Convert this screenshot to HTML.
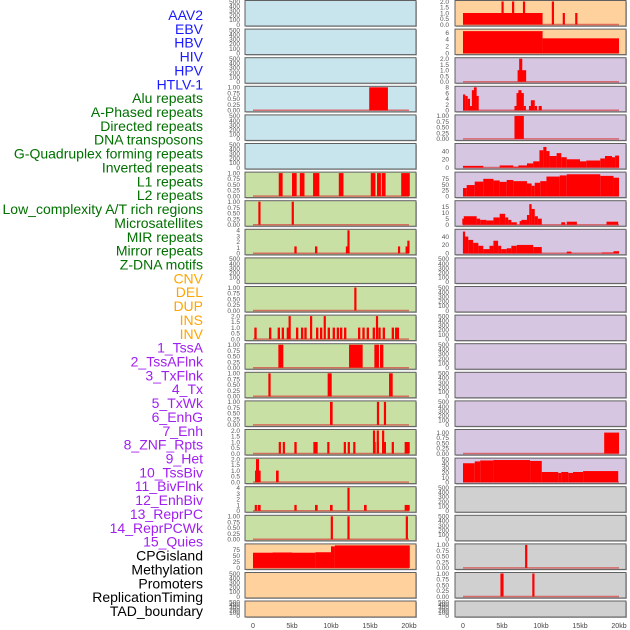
<!DOCTYPE html>
<html><head><meta charset="utf-8"><style>
html,body{margin:0;padding:0;background:#fff;width:630px;height:630px;overflow:hidden}
svg{display:block;font-family:"Liberation Sans",sans-serif}
</style></head><body>
<svg id="chart" width="630" height="630"></svg>
<script>
// ---- data ----
const trackLabels = ["AAV2","EBV","HBV","HIV","HPV","HTLV-1","Alu repeats","A-Phased repeats","Directed repeats","DNA transposons","G-Quadruplex forming repeats","Inverted repeats","L1 repeats","L2 repeats","Low_complexity A/T rich regions","Microsatellites","MIR repeats","Mirror repeats","Z-DNA motifs","CNV","DEL","DUP","INS","INV","1_TssA","2_TssAFlnk","3_TxFlnk","4_Tx","5_TxWk","6_EnhG","7_Enh","8_ZNF_Rpts","9_Het","10_TssBiv","11_BivFlnk","12_EnhBiv","13_ReprPC","14_ReprPCWk","15_Quies","CPGisland","Methylation","Promoters","ReplicationTiming","TAD_boundary"];
const labelGroups = [6,13,5,15,5];
const xTickLabels = ["0","5kb","10kb","15kb","20kb"];
const xTickValues = [0,5,10,15,20];
const ticksEmpty = ["0","100","200","300","400","500"];
const ticks1 = ["0.00","0.25","0.50","0.75","1.00"];
const ticks2 = ["0.0","0.5","1.0","1.5","2.0"];
const ticks4 = ["0","1","2","3","4"];
// bars: [startKb, endKb, value]
const L_alu = [[14.9,17.3,1]];
const L_l1 = [[3.3,3.8,1],[5.0,5.6,1],[6.0,6.6,1],[7.7,8.5,1],[11.0,11.6,1],[15.1,15.7,1],[15.9,16.4,1],[16.5,17.0,1],[19.0,20.1,1]];
const L_low = [[0.7,0.95,1],[5.0,5.2,1]];
const L_mir = [[5.3,5.6,1.2],[7.95,8.25,1.2],[11.95,12.14,1.2],[12.14,12.35,4],[18.6,18.85,1.2],[19.6,19.8,1.2],[19.8,20.05,2.2]];
const L_del = [[13.0,13.25,1]];
const insStarts = [0.17,2.05,3.16,3.68,4.32,5.51,6.15,6.58,8.08,8.59,9.57,10.21,10.73,11.15,11.67,13.46,14.02,14.57,15.34,16.07,16.62,17.78,18.21,18.42];
const insSpikes = [4.6,7.35,9.1,15.8];
const L_tssa = [[3.25,3.89,1],[12.31,14.06,1],[15.56,16.15,1],[16.28,16.71,1]];
const L_tssaflnk = [[1.97,2.26,1],[9.57,10.09,1],[17.44,17.91,1]];
const L_txflnk = [[9.87,10.21,1],[15.9,16.15,1],[16.79,17.05,1]];
const L_tx = [[3.33,3.55,1],[3.85,4.06,1],[5.3,5.6,1],[7.74,8.29,1],[9.57,9.75,1],[11.67,11.88,1],[12.18,12.39,1],[12.86,13.12,1],[15.43,15.73,1],[15.43,15.6,2],[15.9,16.11,1],[15.9,16.1,2],[16.54,17.05,1],[16.62,16.75,2],[17.82,18.03,1],[19.44,20.09,1]];
const L_enhg = [[0.26,0.98,1],[0.38,0.77,2],[2.95,3.29,1]];
const L_enh = [[0.26,0.47,1],[0.6,0.98,1],[5.3,5.6,1],[7.95,8.29,1],[9.87,10.21,1],[12.14,12.35,4],[14.23,14.57,1],[19.44,20.09,1]];
const L_znf = [[10.0,10.21,1],[12.14,12.35,1],[19.62,19.83,1]];
const L_meth = [[0.0,2.5,62],[2.5,5,63],[5,8,62],[8,10,64],[10,10.5,88],[10.5,20.1,92]];
const R_aav2 = [[0,10.2,1],[5.0,5.15,2],[6.35,6.5,2],[7.75,7.9,2],[11.45,11.6,2],[12.85,13.0,1],[14.45,14.6,1]];
const R_ebv = [[0,10.2,6.4],[10.2,20,4.3]];
const R_hiv = [[7.0,8.1,1],[7.2,7.6,2]];
const R_alu = [[0,0.3,5.5],[0.3,0.6,5],[0.6,0.9,4],[0.9,1.15,1.5],[1.15,1.4,7],[1.4,1.75,8],[1.75,2.0,5],[6.6,6.9,1.5],[6.9,7.1,6],[7.1,7.5,7],[7.5,7.8,6],[7.8,8.05,1.5],[8.5,8.7,1.5],[8.7,9.2,3.5],[9.2,9.5,1.5],[9.7,10.1,1.5]];
const R_apha = [[6.6,7.8,1]];
const R_gquad = [[0,2.6,4],[4.7,6.45,5],[6.45,7.1,2],[7.1,8.2,5],[8.2,9.0,10],[9.0,9.8,15],[9.8,10.3,42],[10.3,10.7,50],[10.7,11.1,40],[11.1,12.0,28],[12.0,12.6,35],[12.6,13.3,25],[13.3,15.0,20],[15.0,15.8,15],[15.8,17.6,17],[17.6,18.2,22],[18.2,19.1,28],[19.1,19.5,25],[19.5,20.0,29]];
const R_inv = [[0,0.47,35],[0.47,1.5,48],[1.5,2.6,63],[2.6,3.9,75],[3.9,4.7,68],[4.7,5.6,62],[5.6,6.45,70],[6.45,8.2,65],[8.2,8.8,55],[8.8,9.2,45],[9.2,9.9,58],[9.9,10.7,65],[10.7,12.4,85],[12.4,13.3,90],[13.3,17.6,95],[17.6,19.3,88],[19.3,20.0,80]];
const R_l2 = [[0,0.1,5],[0.1,1.75,7],[1.75,2.2,5],[2.2,3.0,4],[3.0,3.9,3.5],[3.9,4.7,6],[4.7,5.4,9],[5.4,5.8,6],[5.8,6.2,4],[6.2,6.9,2],[7.3,7.5,3],[7.5,8.2,4],[8.2,8.5,8],[8.5,8.8,17],[8.8,9.2,13],[9.2,9.6,7],[9.6,10.1,5],[12.6,13.1,2],[13.3,14.6,2.5],[18.4,19.9,2.5]];
const R_low = [[0,0.26,52],[0.26,0.68,40],[0.68,1.3,32],[1.3,1.97,25],[1.97,2.6,18],[2.6,3.4,10],[3.4,3.9,18],[3.9,4.5,30],[4.5,4.9,18],[4.9,5.6,10],[5.6,6.2,12],[6.2,6.9,18],[6.9,9.0,20],[9.0,10.1,15],[13.3,13.9,4],[17.8,19.3,2],[19.3,20.0,5]];
const R_znf = [[18.1,20.0,1]];
const R_het = [[0,1.5,41],[1.5,2.2,45],[2.2,3.9,47],[3.9,8.6,48],[8.6,10.1,46],[10.1,12.2,22],[12.2,12.6,20],[12.6,13.5,22],[13.5,14.1,20],[14.1,15.4,22],[15.4,19.9,24]];
const R_prom = [[8.0,8.2,1]];
const R_rep = [[4.8,5.2,1],[8.9,9.15,1]];

const BLUE="#c8e4ec",PEACH="#ffd19c",LAV="#d6c6e2",GRN="#c8e0a4",GRAY="#d0d0d0";
function insBars(){const b=insStarts.map(s=>[s,s+0.3,1]);insSpikes.forEach(s=>b.push([s,s+0.2,2]));return b;}
const panels = [
 [0,0,BLUE,null,500,ticksEmpty],[0,1,PEACH,R_aav2,2,ticks2],
 [1,0,BLUE,null,500,ticksEmpty],[1,1,PEACH,R_ebv,6.7,["0","2","4","6"]],
 [2,0,BLUE,null,500,ticksEmpty],[2,1,LAV,R_hiv,2,ticks2],
 [3,0,BLUE,L_alu,1,ticks1],[3,1,LAV,R_alu,8,["0","2","4","6","8"]],
 [4,0,BLUE,null,500,ticksEmpty],[4,1,LAV,R_apha,1,ticks1],
 [5,0,BLUE,null,500,ticksEmpty],[5,1,LAV,R_gquad,56,["0","20","40"]],
 [6,0,GRN,L_l1,1,ticks1],[6,1,LAV,R_inv,100,["0","25","50","75"]],
 [7,0,GRN,L_low,1,ticks1],[7,1,LAV,R_l2,19,["0","5","10","15"]],
 [8,0,GRN,L_mir,4,ticks4],[8,1,LAV,R_low,55,["0","20","40"]],
 [9,0,GRN,null,500,ticksEmpty],[9,1,LAV,null,500,ticksEmpty],
 [10,0,GRN,L_del,1,ticks1],[10,1,LAV,null,500,ticksEmpty],
 [11,0,GRN,insBars(),2,ticks2],[11,1,LAV,null,500,ticksEmpty],
 [12,0,GRN,L_tssa,1,ticks1],[12,1,LAV,null,500,ticksEmpty],
 [13,0,GRN,L_tssaflnk,1,ticks1],[13,1,LAV,null,500,ticksEmpty],
 [14,0,GRN,L_txflnk,1,ticks1],[14,1,LAV,null,500,ticksEmpty],
 [15,0,GRN,L_tx,2,ticks2],[15,1,LAV,R_znf,1.1,ticks1],
 [16,0,GRN,L_enhg,2,ticks2],[16,1,LAV,R_het,50,["0","10","20","30","40","50"]],
 [17,0,GRN,L_enh,4,ticks4],[17,1,GRAY,null,500,ticksEmpty],
 [18,0,GRN,L_znf,1,ticks1],[18,1,GRAY,null,500,ticksEmpty],
 [19,0,PEACH,L_meth,94,["0","25","50","75"]],[19,1,GRAY,R_prom,1,ticks1],
 [20,0,PEACH,null,500,ticksEmpty],[20,1,GRAY,R_rep,1,ticks1],
 [21,0,PEACH,null,500,ticksEmpty],[21,1,GRAY,null,500,ticksEmpty]
];

// ---- drawing ----
const svg=document.getElementById('chart');
const NS="http://www.w3.org/2000/svg";
function mk(tag,attrs,parent){const e=document.createElementNS(NS,tag);for(const k in attrs)e.setAttribute(k,attrs[k]);(parent||svg).appendChild(e);return e;}
const colX=[[245,416,253],[455,626,463]];
function xScale(col,kb){return colX[col][2]+kb*7.8;}
function rowTop(r){return r===21?601:0.5+r*28.6;}
function rowH(r){return r===21?16:25.5;}

const groupColors=["#1a1aff","#007000","#ffa500","#a020f0","#000000"];
let li=0;
labelGroups.forEach((n,g)=>{for(let k=0;k<n;k++){const t=mk('text',{x:203,y:20+li*13.86,'text-anchor':'end','font-size':'14',fill:groupColors[g]});


t.textContent=trackLabels[li];li++;}});

panels.forEach(p=>{
 const [r,c,bg,data,ymax,ticks]=p;
 const x0=colX[c][0],x1=colX[c][1],top=rowTop(r),h=rowH(r);
 const g=mk('g',{});
 
 
 mk('rect',{x:x0+1,y:top+1,width:x1-x0,height:h,fill:'#bbb'},g);
 mk('rect',{x:x0,y:top,width:x1-x0,height:h,fill:bg,stroke:'#606060','stroke-width':1},g);
 const pTop=top+1,pBot=top+h-1.5;
 const yS=v=>pBot-(v/ymax)*(pBot-pTop);
 ticks.forEach((t,i)=>{
  let v=parseFloat(t);
  const tl=mk('text',{x:c===0?240:449,y:yS(v)+2.3,'text-anchor':'end','font-size':'6.5',fill:'#555'},g);
  
  
  tl.textContent=t;
 });
 if(data){
  mk('line',{x1:xScale(c,0),x2:xScale(c,20),y1:pBot,y2:pBot,stroke:'#d84040','stroke-width':1.5,opacity:0.7},g);
  data.forEach(b=>{
   const xa=xScale(c,b[0]),xb=xScale(c,b[1]);
   const w=Math.max(xb-xa,2.2);
   const rc=mk('rect',{x:xa-(w-(xb-xa))/2,y:yS(Math.min(b[2],ymax)),width:w,height:pBot-yS(Math.min(b[2],ymax)),fill:'#ff0000'},g);
   
   
  });
 }
});
[0,1].forEach(c=>{xTickValues.forEach((v,i)=>{
 const t=mk('text',{x:xScale(c,v),y:628,'text-anchor':'middle','font-size':'7',fill:'#444'});
 
 
 t.textContent=xTickLabels[i];});});
</script>
</body></html>
